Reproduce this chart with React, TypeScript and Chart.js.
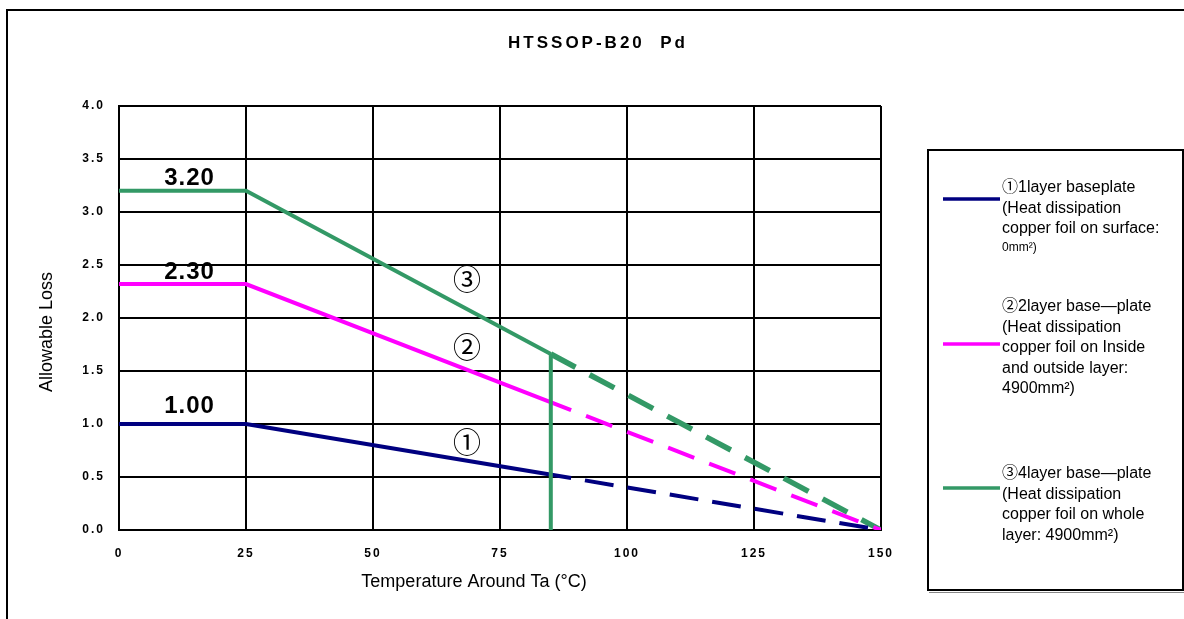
import { useEffect, useRef } from 'react';
import { Chart, registerables } from 'chart.js';

Chart.register(...registerables);

// ---- data ----
const chartTitle = 'HTSSOP-B20  Pd';
const xAxisTitle = 'Temperature Around Ta (°C)';
const yAxisTitle = 'Allowable Loss';

const xTickValues = [0, 25, 50, 75, 100, 125, 150];
const yTickValues = [0, 0.5, 1.0, 1.5, 2.0, 2.5, 3.0, 3.5, 4.0];

const temps1 = [0, 25, 89, 150];
const loss1 = [1.0, 1.0, 0.49, 0];
const temps2 = [0, 25, 89, 150];
const loss2 = [2.32, 2.32, 1.13, 0];
const temps3 = [0, 25, 85, 150];
const loss3 = [3.2, 3.2, 1.66, 0];
const cutTemps = [85, 85];
const cutLoss = [1.66, 0];

const valueLabels = ['3.20', '2.30', '1.00'];
const valueLabelTemps = [13.9, 13.9, 13.9];
const valueLabelLoss = [3.32, 2.43, 1.17];

const curveMarks = ['③', '②', '①'];
const curveMarkTemps = [68.5, 68.5, 68.5];
const curveMarkLoss = [2.36, 1.72, 0.83];

const legendTexts = [
  ['①1layer baseplate', '(Heat dissipation', 'copper foil on surface:', '0mm²)'],
  ['②2layer base—plate', '(Heat dissipation', 'copper foil on Inside', 'and outside layer:', '4900mm²)'],
  ['③4layer base—plate', '(Heat dissipation', 'copper foil on whole', 'layer: 4900mm²)'],
];

// ---- styles ----
const NAVY = '#000080';
const MAGENTA = '#ff00ff';
const GREEN = '#339966';
const seriesColors = [NAVY, MAGENTA, GREEN];
const FONT = '"Liberation Sans", Arial, "Noto Sans CJK JP", sans-serif';

const toPoints = (xs: number[], ys: number[]) => xs.map((x, i) => ({ x, y: ys[i] }));

const overlay = {
  id: 'overlay',
  beforeDraw(chart: any) {
    chart.ctx.letterSpacing = '2px';
  },
  beforeDatasetsDraw(chart: any) {
    chart.ctx.letterSpacing = '0px';
  },
  afterDraw(chart: any) {
    const ctx: CanvasRenderingContext2D = chart.ctx;
    const xs = chart.scales.x;
    const ys = chart.scales.y;
    ctx.save();
    (ctx as any).letterSpacing = '0px';
    ctx.fillStyle = '#000';
    ctx.strokeStyle = '#000';

    // outer frame
    ctx.lineWidth = 2;
    ctx.strokeRect(7, 10, 1300, 800);

    // title
    (ctx as any).letterSpacing = '3px';
    ctx.font = `bold 17px ${FONT}`;
    ctx.textAlign = 'center';
    ctx.textBaseline = 'middle';
    ctx.fillText(chartTitle, 598, 43);

    // value labels
    (ctx as any).letterSpacing = '1px';
    ctx.font = `bold 24px ${FONT}`;
    valueLabels.forEach((t, i) => {
      ctx.fillText(t, xs.getPixelForValue(valueLabelTemps[i]), ys.getPixelForValue(valueLabelLoss[i]));
    });
    (ctx as any).letterSpacing = '0px';

    // curve marks
    ctx.font = `28px "Noto Sans CJK JP", ${FONT}`;
    curveMarks.forEach((t, i) => {
      ctx.fillText(t, xs.getPixelForValue(curveMarkTemps[i]), ys.getPixelForValue(curveMarkLoss[i]));
    });

    // axis titles
    ctx.font = `18px ${FONT}`;
    ctx.fillText(xAxisTitle, 474, 582);
    ctx.save();
    ctx.translate(47, 332);
    ctx.rotate(-Math.PI / 2);
    ctx.fillText(yAxisTitle, 0, 0);
    ctx.restore();

    // legend box
    ctx.lineWidth = 2;
    ctx.strokeRect(928, 150, 255, 440);
    ctx.strokeStyle = '#888';
    ctx.lineWidth = 1;
    ctx.beginPath();
    ctx.moveTo(929, 592.5);
    ctx.lineTo(1184, 592.5);
    ctx.stroke();

    const blockTops = [188, 307, 474];
    const sampleYs = [199, 344, 488];
    const lh = 20.5;
    ctx.textAlign = 'left';
    legendTexts.forEach((lines, b) => {
      ctx.strokeStyle = seriesColors[b];
      ctx.lineWidth = 3.5;
      ctx.beginPath();
      ctx.moveTo(943, sampleYs[b]);
      ctx.lineTo(1000, sampleYs[b]);
      ctx.stroke();
      lines.forEach((ln, j) => {
        const small = b === 0 && j === 3;
        ctx.font = small ? `12px ${FONT}` : `16px ${FONT}`;
        ctx.fillStyle = '#000';
        ctx.fillText(ln, 1002, blockTops[b] + j * lh - (small ? 2 : 0));
      });
    });

    ctx.restore();
  },
};

export default function App() {
  const canvasRef = useRef<HTMLCanvasElement | null>(null);

  useEffect(() => {
    const canvas = canvasRef.current;
    if (!canvas) return;
    const mkSeg = (dash: number[], offset: number, solidW: number, dashW: number) => ({
      borderDash: (c: any) => (c.p0DataIndex >= 2 ? dash : undefined),
      borderDashOffset: (c: any) => (c.p0DataIndex >= 2 ? offset : 0),
      borderWidth: (c: any) => (c.p0DataIndex >= 2 ? dashW : solidW),
    });
    const chart = new Chart(canvas, {
      type: 'line',
      data: {
        datasets: [
          {
            label: 'cut',
            data: toPoints(cutTemps, cutLoss),
            borderColor: GREEN,
            borderWidth: 4,
            pointRadius: 0,
            borderCapStyle: 'butt',
          },
          {
            label: '1layer',
            data: toPoints(temps1, loss1),
            borderColor: NAVY,
            borderWidth: 4,
            pointRadius: 0,
            segment: mkSeg([29, 14], 29, 4, 4),
          },
          {
            label: '2layer',
            data: toPoints(temps2, loss2),
            borderColor: MAGENTA,
            borderWidth: 4,
            pointRadius: 0,
            segment: mkSeg([28, 16], 28, 4, 4),
          },
          {
            label: '4layer',
            data: toPoints(temps3, loss3),
            borderColor: GREEN,
            borderWidth: 4,
            pointRadius: 0,
            segment: mkSeg([28, 16], 0, 4, 5.5),
          },
        ],
      } as any,
      options: {
        animation: false,
        responsive: false,
        devicePixelRatio: 1,
        layout: { padding: { left: 0, right: 303, top: 106, bottom: 0 } },
        plugins: {
          legend: { display: false },
          title: { display: false },
          tooltip: { enabled: false },
        },
        scales: {
          x: {
            type: 'linear',
            min: 0,
            max: 150,
            afterBuildTicks: (s: any) => {
              s.ticks = xTickValues.map((v) => ({ value: v }));
            },
            afterFit: (s: any) => {
              s.height = 89;
            },
            ticks: {
              color: '#000',
              padding: 16,
              maxRotation: 0,
              font: { family: FONT, size: 12, weight: 'bold' },
              callback: (v: any) => String(v),
            },
            grid: { color: '#000', lineWidth: 2, drawTicks: false },
            border: { color: '#000', width: 2 },
          },
          y: {
            type: 'linear',
            min: 0,
            max: 4,
            afterBuildTicks: (s: any) => {
              s.ticks = yTickValues.map((v) => ({ value: v }));
            },
            afterFit: (s: any) => {
              s.width = 119;
            },
            ticks: {
              color: '#000',
              padding: 14,
              font: { family: FONT, size: 12, weight: 'bold' },
              callback: (v: any) => Number(v).toFixed(1),
            },
            grid: { color: '#000', lineWidth: 2, drawTicks: false },
            border: { color: '#000', width: 2 },
          },
        },
      } as any,
      plugins: [overlay],
    });
    return () => chart.destroy();
  }, []);

  return (
    <div style={{ position: 'absolute', left: 0, top: 0, width: 1184, height: 619, overflow: 'hidden', background: '#fff' }}>
      <canvas ref={canvasRef} width={1184} height={619} style={{ display: 'block' }} />
    </div>
  );
}
